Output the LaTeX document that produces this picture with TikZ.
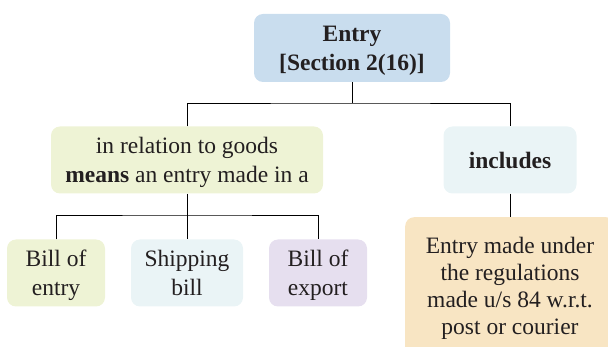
\documentclass[tikz,border=0pt]{standalone}
\usepackage{fontspec}
\setmainfont{Liberation Serif}
\definecolor{txt}{HTML}{231F20}
\definecolor{cblue}{HTML}{C9DDEE}
\definecolor{cgreen}{HTML}{EEF3D5}
\definecolor{cice}{HTML}{EAF4F6}
\definecolor{clilac}{HTML}{E6DFEF}
\definecolor{csand}{HTML}{F8E5C3}
\begin{document}
\begin{tikzpicture}[x=1pt,y=-1pt,
  box/.style={rounded corners=9pt, inner sep=0pt, align=center, text=txt,
    font=\fontsize{23.5}{29}\selectfont, text depth=0pt},
  link/.style={draw=black, line width=0.8pt}]
\useasboundingbox (0,0) rectangle (608,347);
\clip (0,0) rectangle (608,347);
% boxes
\node[box, fill=cblue, minimum width=196pt, minimum height=68pt] (entry) at (352,48)
  {\textbf{Entry}\\\textbf{[Section 2(16)]}};
\node[box, fill=cgreen, minimum width=272pt, minimum height=67pt] (rel) at (187,160)
  {in relation to goods\\\textbf{means} an entry made in a};
\node[box, fill=cice, minimum width=133pt, minimum height=67pt] (inc) at (510,160)
  {\textbf{includes}};
\node[box, fill=csand, minimum width=210pt, minimum height=140pt, anchor=north west] (post) at (405,217) {};
\node[text=txt, font=\fontsize{23.5}{27}\selectfont, align=center, inner sep=0pt, text depth=0pt] (posttxt) at (510,286)
  {Entry made under\\the regulations\\made u/s 84 w.r.t.\\post or courier};
\node[box, fill=cgreen, minimum width=98pt, minimum height=67pt] (boe) at (56,273)
  {Bill of\\entry};
\node[box, fill=cice, minimum width=112pt, minimum height=67pt] (sb) at (187,273)
  {Shipping\\bill};
\node[box, fill=clilac, minimum width=98pt, minimum height=67pt] (bex) at (318,273)
  {Bill of\\export};
% connectors
\coordinate (j1) at (352,103);
\coordinate (j2) at (187,215);
\draw[link] (entry.south) -- (j1);
\draw[link] (rel.north) |- (j1) -| (inc.north);
\draw[link] (inc.south) -- (inc.south |- post.north);
\draw[link] (rel.south) -- (j2);
\draw[link] (boe.north) |- (j2) -| (bex.north);
\draw[link] (j2) -- (sb.north);
\end{tikzpicture}
\end{document}
